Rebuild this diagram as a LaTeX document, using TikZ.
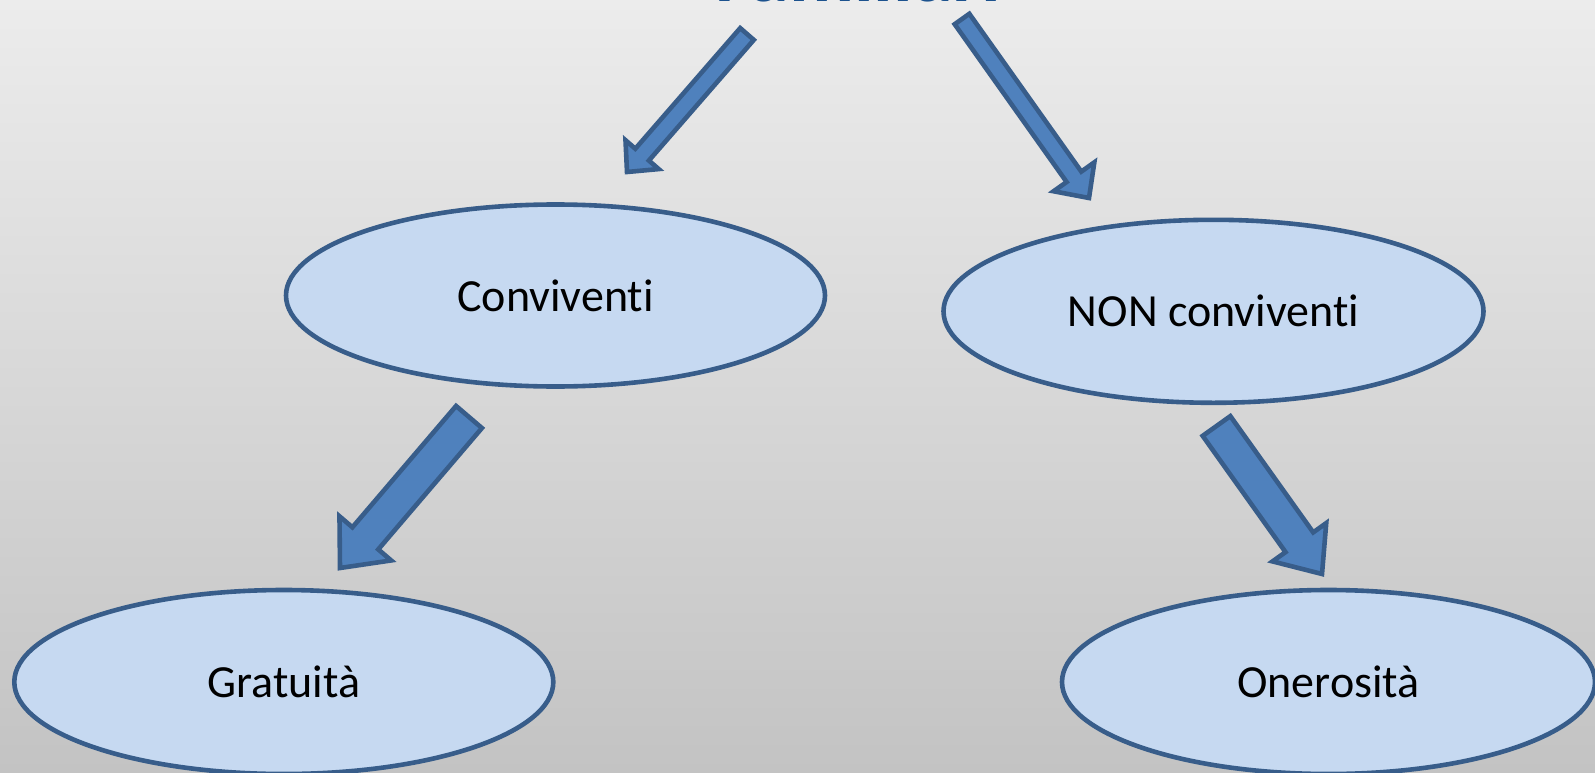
\documentclass[tikz,border=0pt]{standalone}
\usepackage{fontspec}
\setmainfont{Carlito}[Ligatures={NoCommon}]
\usetikzlibrary{shapes.geometric,calc}
\definecolor{bgtop}{RGB}{236,236,236}
\definecolor{bgbot}{RGB}{195,195,195}
\definecolor{ellfill}{RGB}{198,217,241}
\definecolor{ellline}{RGB}{56,93,138}
\definecolor{arrfill}{RGB}{79,129,189}
\definecolor{titleblue}{RGB}{28,82,142}
\tikzset{
  bubble/.style={ellipse, draw=ellline, fill=ellfill, line width=4.6pt, inner sep=0pt,
    font=\fontsize{46}{55}\selectfont, text=black},
  blockarrow/.style={draw=ellline, fill=arrfill, line width=4.6pt, line join=miter},
}
\newcommand\blockarr[5]{%
  \coordinate (#1b) at ($(#2)!#5!(#1)$);
  \draw[blockarrow] ($(#1)!#3!90:(#2)$) -- ($(#1b)!#3!90:(#2)$) -- ($(#1b)!#4!90:(#2)$)
    -- (#2) -- ($(#1b)!#4!-90:(#2)$) -- ($(#1b)!#3!-90:(#2)$) -- ($(#1)!#3!-90:(#2)$) -- cycle;
}
\begin{document}
\begin{tikzpicture}[x=1pt,y=-1pt]
\shade[top color=bgtop, bottom color=bgbot] (0,0) rectangle (1595,773);
\useasboundingbox (0,0) rectangle (1595,773);

\node[anchor=base, font=\fontsize{80}{96}\selectfont\bfseries, text=titleblue] (title) at (858,2) {Familiari};

\node[bubble, minimum width=539pt, minimum height=182pt] (conv) at (555.5,295.5) {Conviventi};
\node[bubble, minimum width=540pt, minimum height=183pt] (nonconv) at (1213.5,311.3) {NON conviventi};
\node[bubble, minimum width=539pt, minimum height=184pt] (grat) at (283.8,682) {Gratuità};
\node[bubble, minimum width=533pt, minimum height=184pt] (oner) at (1328.5,682) {Onerosità};

\coordinate (a1s) at (747,34);   \coordinate (a1t) at (627,172);
\coordinate (a2s) at (962,19);   \coordinate (a2t) at (1089,198);
\coordinate (a3s) at (469,417);  \coordinate (a3t) at (340,568);
\coordinate (a4s) at (1216.5,426); \coordinate (a4t) at (1322,574);

\blockarr{a1s}{a1t}{9pt}{22pt}{23pt}
\blockarr{a2s}{a2t}{9pt}{25pt}{26pt}
\blockarr{a3s}{a3t}{17pt}{34pt}{39pt}
\blockarr{a4s}{a4t}{17pt}{33pt}{39pt}
\end{tikzpicture}
\end{document}
